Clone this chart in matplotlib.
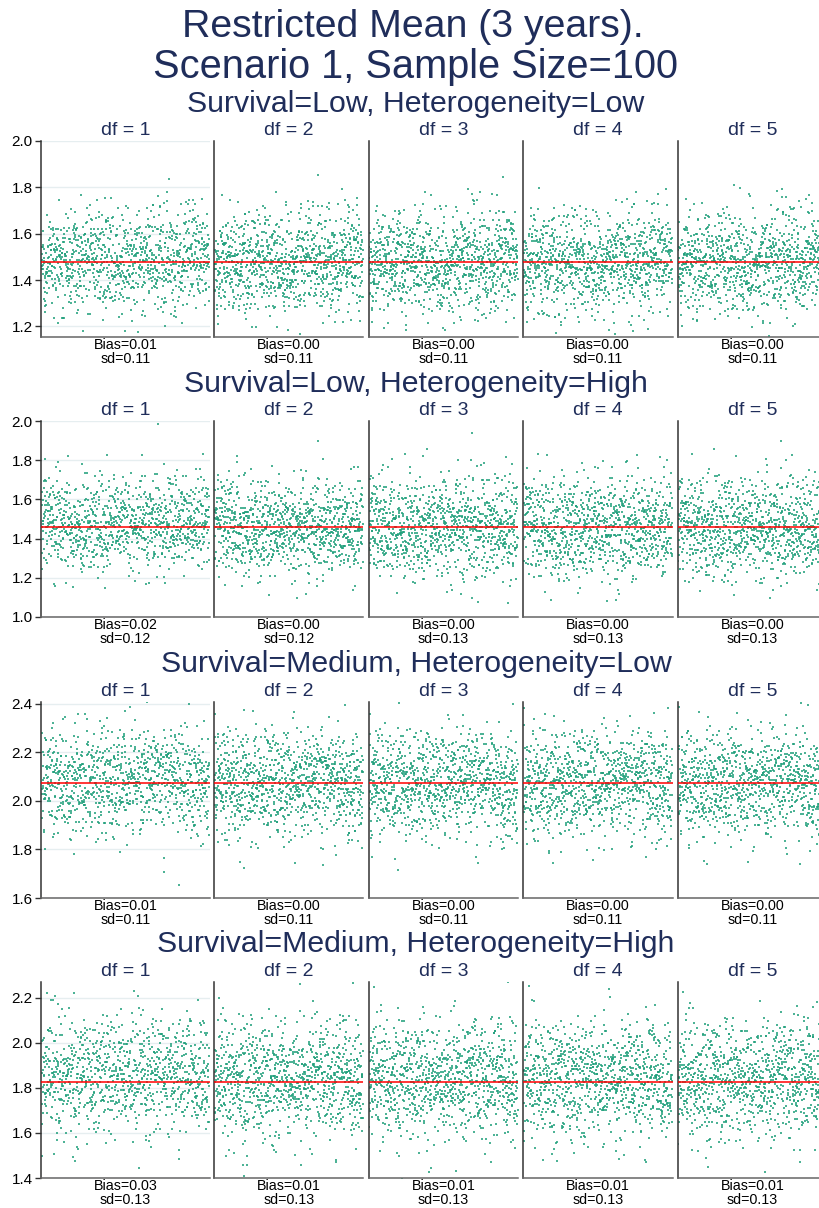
import numpy as np
import matplotlib.pyplot as plt

# ---- values ----
row_titles = ["Survival=Low, Heterogeneity=Low",
              "Survival=Low, Heterogeneity=High",
              "Survival=Medium, Heterogeneity=Low",
              "Survival=Medium, Heterogeneity=High"]
df_labels = ["df = 1", "df = 2", "df = 3", "df = 4", "df = 5"]

true_value = [1.477, 1.4585, 2.072, 1.8275]
bias = [[0.01, 0.00, 0.00, 0.00, 0.00],
        [0.02, 0.00, 0.00, 0.00, 0.00],
        [0.01, 0.00, 0.00, 0.00, 0.00],
        [0.03, 0.01, 0.01, 0.01, 0.01]]
sd = [[0.11, 0.11, 0.11, 0.11, 0.11],
      [0.12, 0.12, 0.13, 0.13, 0.13],
      [0.11, 0.11, 0.11, 0.11, 0.11],
      [0.13, 0.13, 0.13, 0.13, 0.13]]

y_limits = [(1.154, 2.0), (1.0, 2.0), (1.6, 2.407), (1.4, 2.269)]
y_ticks = [[1.2, 1.4, 1.6, 1.8, 2.0],
           [1.0, 1.2, 1.4, 1.6, 1.8, 2.0],
           [1.6, 1.8, 2.0, 2.2, 2.4],
           [1.4, 1.6, 1.8, 2.0, 2.2]]

n_reps = 1000

# individual replicate estimates can't be read one by one (1000 per panel),
# so they are simulated from each panel's printed bias and sd
rng = np.random.default_rng(7)
estimates = []
for r in range(4):
    base = rng.standard_normal(n_reps)
    row = []
    for c in range(5):
        z = 0.93 * base + 0.37 * rng.standard_normal(n_reps)
        z = (z - z.mean()) / z.std()
        row.append(true_value[r] + bias[r][c] + sd[r][c] * z)
    estimates.append(row)

# ---- layout (pixels) ----
W, H = 820, 1208
fig = plt.figure(figsize=(W / 100, H / 100), dpi=100)
plt.rcParams['font.family'] = ['Liberation Sans', 'DejaVu Sans']
navy = '#1f2d5a'

col_left = [41, 214, 368.7, 523.3, 677.8]
col_width = [169, 149.5, 149.5, 149.5, 149.5]
row_top = [141, 421, 702, 982]
ax_h = 196


def fx(px):
    return px / W


def fy(py):
    return 1 - py / H


fig.text(fx(413), fy(37), "Restricted Mean (3 years).", ha='center', va='baseline',
         fontsize=28.3, color=navy)
fig.text(fx(416), fy(78), "Scenario 1, Sample Size=100", ha='center', va='baseline',
         fontsize=28.6, color=navy)

for r in range(4):
    fig.text(fx(416), fy(112 + 280 * r), row_titles[r], ha='center', va='baseline',
             fontsize=21.8, color=navy)
    for c in range(5):
        ax = fig.add_axes([fx(col_left[c]), fy(row_top[r] + ax_h),
                           fx(col_width[c]), ax_h / H])
        x = np.arange(1, n_reps + 1)
        ax.scatter(x, estimates[r][c], s=1.7, marker='s', color='#22a07c',
                   alpha=0.8, linewidths=0, zorder=2)
        ax.axhline(true_value[r], color='#ff0000', lw=1.1, zorder=3)
        ax.set_xlim(-3, n_reps + 4)
        ax.set_ylim(*y_limits[r])
        ax.set_yticks(y_ticks[r])
        ax.set_xticks([])
        for s in ['top', 'right']:
            ax.spines[s].set_visible(False)
        ax.spines['left'].set_color('#333333')
        ax.spines['left'].set_linewidth(1.1)
        ax.spines['bottom'].set_color('#666666')
        ax.spines['bottom'].set_linewidth(1.1)
        if c == 0:
            ax.yaxis.grid(True, color='#e6eef0', lw=1.0, zorder=0)
            ax.set_axisbelow(True)
            ax.tick_params(axis='y', length=4, width=1, color='#333333',
                           labelsize=11, pad=2)
            ax.set_yticklabels([f"{t:.1f}" for t in y_ticks[r]])
        else:
            ax.tick_params(axis='y', left=False, labelleft=False)
        ax.set_xlabel(f"Bias={bias[r][c]:.2f}\nsd={sd[r][c]:.2f}", fontsize=10.3,
                      labelpad=0.5, linespacing=1.05)
        ax.set_title(df_labels[c], fontsize=14, color=navy, pad=4)

fig.savefig("out.png", dpi=100)
